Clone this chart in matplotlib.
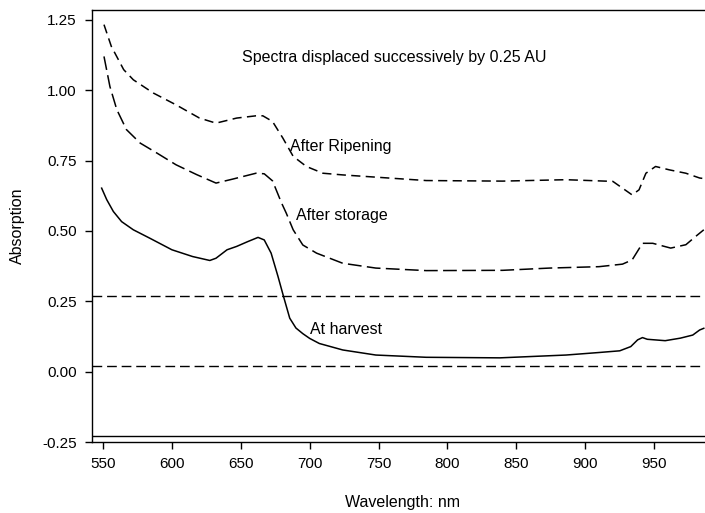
import matplotlib
matplotlib.use("Agg")
import matplotlib.pyplot as plt

plt.rcParams['font.family'] = ['Liberation Sans', 'DejaVu Sans']

# At harvest (solid)
harvest_nm = [549, 552.7, 557.5, 563.5, 572, 584, 600, 615, 627.5, 632, 640, 647, 655, 662.5, 667, 672,
              677, 681, 685.5, 690, 695, 700, 707, 724, 748, 784.5, 838, 886, 910, 925, 933, 938,
              941.5, 945, 958, 969, 978, 983, 986]
harvest_abs = [0.652, 0.611, 0.569, 0.533, 0.504, 0.474, 0.433, 0.409, 0.395, 0.403, 0.433, 0.445,
               0.462, 0.477, 0.468, 0.421, 0.338, 0.267, 0.190, 0.155, 0.135, 0.118, 0.100, 0.077,
               0.059, 0.051, 0.049, 0.059, 0.068, 0.074, 0.089, 0.113, 0.121, 0.115, 0.110, 0.119,
               0.130, 0.148, 0.154]

# After storage (long dashes)
storage_nm = [550.7, 555, 560, 567, 577, 589, 603, 618, 632, 644, 661, 667, 673, 679.5, 683, 688,
              695, 705, 724, 748, 784.5, 840, 874, 910, 927, 934, 941.5, 949, 962, 973, 980, 986]
storage_abs = [1.120, 1.013, 0.931, 0.860, 0.812, 0.777, 0.735, 0.700, 0.670, 0.684, 0.705, 0.703,
               0.678, 0.600, 0.563, 0.504, 0.450, 0.421, 0.385, 0.368, 0.359, 0.360, 0.368, 0.373,
               0.382, 0.397, 0.456, 0.456, 0.439, 0.451, 0.480, 0.504]

# After ripening (medium dashes)
ripening_nm = [550.7, 556, 565, 572, 586.5, 603, 620, 632, 647, 661, 666, 673, 680.5, 688, 697.6,
               709.6, 724, 784.5, 840, 886, 920, 927, 934, 939, 944, 951, 961, 973, 983, 986]
ripening_abs = [1.233, 1.156, 1.073, 1.037, 0.990, 0.948, 0.901, 0.883, 0.901, 0.909, 0.909, 0.889,
                0.830, 0.765, 0.729, 0.705, 0.699, 0.679, 0.677, 0.682, 0.676, 0.652, 0.628, 0.646,
                0.705, 0.729, 0.717, 0.705, 0.688, 0.686]

# Horizontal baselines
dashed_levels = [0.27, 0.02]
solid_level = -0.23

x_ticks = [550, 600, 650, 700, 750, 800, 850, 900, 950]
y_ticks = [-0.25, 0.00, 0.25, 0.50, 0.75, 1.00, 1.25]
y_ticklabels = ['-0.25', '0.00', '0.25', '0.50', '0.75', '1.00', '1.25']

fig = plt.figure(figsize=(7.05, 5.13), dpi=100)
ax = fig.add_axes([92/705, 1 - 442/513, 1 - 92/705 + 0.01, (442 - 10)/513])

lw = 1.1
ax.plot(harvest_nm, harvest_abs, color='black', lw=lw, solid_joinstyle='round')
ax.plot(storage_nm, storage_abs, color='black', lw=lw, dashes=(9, 3.5))
ax.plot(ripening_nm, ripening_abs, color='black', lw=lw, dashes=(6, 3.5))
for lv in dashed_levels:
    ax.axhline(lv, color='black', lw=1.0, dashes=(7, 3.5))
ax.axhline(solid_level, color='black', lw=1.0)

ax.set_xlim(542, 992)
ax.set_ylim(-0.25, 1.285)
ax.set_xticks(x_ticks)
ax.set_yticks(y_ticks)
ax.set_yticklabels(y_ticklabels)
ax.tick_params(direction='out', length=5, width=1, labelsize=11, pad=6)
ax.spines['right'].set_visible(False)
for s in ['left', 'bottom', 'top']:
    ax.spines[s].set_linewidth(1.0)

ax.set_xlabel('Wavelength: nm', fontsize=11.5, labelpad=17)
ax.set_ylabel('Absorption', fontsize=11.5, labelpad=12)

ax.text(651, 1.116, 'Spectra displaced successively by 0.25 AU', fontsize=11.5, va='center', ha='left')
ax.text(685.5, 0.799, 'After Ripening', fontsize=11.5, va='center', ha='left')
ax.text(690, 0.554, 'After storage', fontsize=11.5, va='center', ha='left')
ax.text(700, 0.148, 'At harvest', fontsize=11.5, va='center', ha='left')

fig.savefig('out.png', dpi=100)
